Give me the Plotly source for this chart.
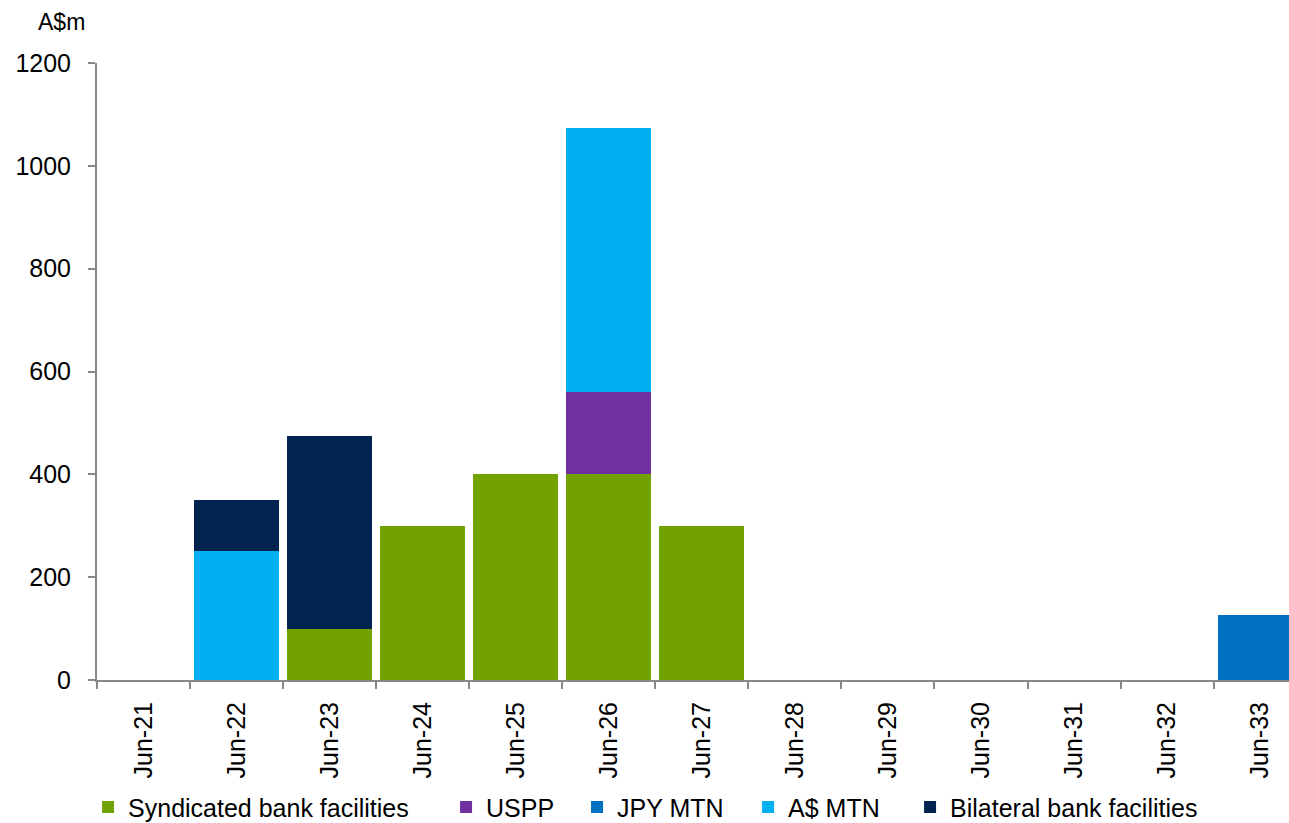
import plotly.graph_objects as go

# Debt maturity profile, A$m, by financial year ending June
periods = ["Jun-21", "Jun-22", "Jun-23", "Jun-24", "Jun-25", "Jun-26", "Jun-27",
           "Jun-28", "Jun-29", "Jun-30", "Jun-31", "Jun-32", "Jun-33"]

syndicated = [0, 0, 100, 300, 400, 400, 300, 0, 0, 0, 0, 0, 0]
uspp = [0, 0, 0, 0, 0, 160, 0, 0, 0, 0, 0, 0, 0]
jpy_mtn = [0, 0, 0, 0, 0, 0, 0, 0, 0, 0, 0, 0, 126]
aud_mtn = [0, 250, 0, 0, 0, 513, 0, 0, 0, 0, 0, 0, 0]
bilateral = [0, 100, 375, 0, 0, 0, 0, 0, 0, 0, 0, 0, 0]

# name, values, colour, legend entry width (px, text part)
series = [
    ("Syndicated bank facilities", syndicated, "#72A200", 313),
    ("USPP", uspp, "#7030A0", 86),
    ("JPY MTN", jpy_mtn, "#0070C0", 126),
    ("A$ MTN", aud_mtn, "#00B0F0", 117),
    ("Bilateral bank facilities", bilateral, "#00244F", 260),
]

FONT = "Liberation Sans, Arial, sans-serif"

fig = go.Figure()
for name, values, colour, lw in series:
    fig.add_trace(go.Bar(
        x=periods, y=values, name=name,
        marker=dict(color=colour, line=dict(width=0)),
        legendwidth=lw,
    ))

fig.update_layout(
    barmode="stack",
    bargap=0.087,
    width=1289, height=823,
    margin=dict(l=97, r=0, t=63, b=143, autoexpand=False),
    paper_bgcolor="white", plot_bgcolor="white",
    font=dict(family=FONT, size=25, color="#000000"),
    showlegend=True,
    legend=dict(
        orientation="h",
        x=-0.0075, xanchor="left",
        y=-0.169, yanchor="top",
        font=dict(family=FONT, size=25, color="#000000"),
        traceorder="normal",
        itemwidth=30,
    ),
    xaxis=dict(
        type="category",
        range=[-0.5, 12.31],
        tickson="boundaries",
        ticks="outside", ticklen=7, tickwidth=2, tickcolor="#888888",
        showline=True, linecolor="#888888", linewidth=2,
        tickangle=-90,
        ticklabelstandoff=10,
        showgrid=False, zeroline=False,
        automargin=False,
    ),
    yaxis=dict(
        range=[0, 1200],
        tickvals=[0, 200, 400, 600, 800, 1000, 1200],
        ticks="outside", ticklen=7, tickwidth=2, tickcolor="#888888",
        showline=True, linecolor="#888888", linewidth=2,
        ticklabelstandoff=12,
        showgrid=False, zeroline=False,
        automargin=False,
    ),
    annotations=[dict(
        text="A$m", xref="paper", yref="paper",
        x=-0.030, y=1.066, xanchor="center", yanchor="middle",
        showarrow=False, font=dict(family=FONT, size=23, color="#000000"),
    )],
)

fig.write_html("out.html")
